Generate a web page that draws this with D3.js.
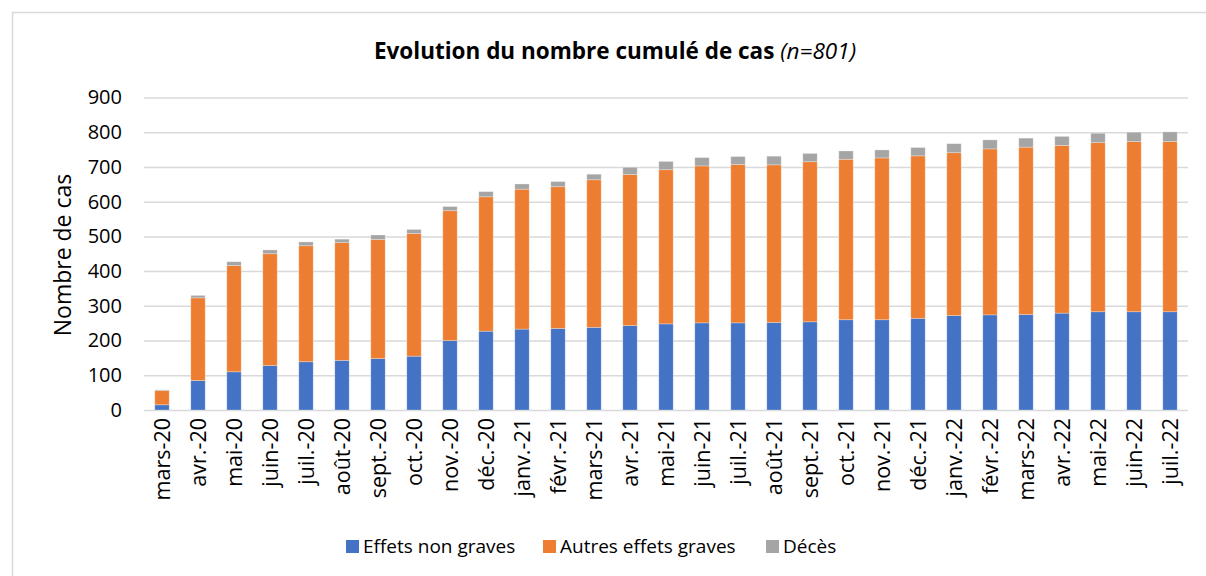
<!DOCTYPE html>
<html>
<head>
<meta charset="utf-8">
<script src="https://cdn.jsdelivr.net/npm/d3@7"></script>
<style>
  body { margin: 0; background: #fff; }
  svg text { font-family: "Open Sans", sans-serif; fill: #000; }
</style>
</head>
<body>
<div id="chart"></div>
<script>
const months = ['mars-20', 'avr.-20', 'mai-20', 'juin-20', 'juil.-20', 'août-20', 'sept.-20', 'oct.-20', 'nov.-20', 'déc.-20',
  'janv.-21', 'févr.-21', 'mars-21', 'avr.-21', 'mai-21', 'juin-21', 'juil.-21', 'août-21', 'sept.-21', 'oct.-21', 'nov.-21', 'déc.-21',
  'janv.-22', 'févr.-22', 'mars-22', 'avr.-22', 'mai-22', 'juin-22', 'juil.-22']
const nonGraves = [15, 85, 110, 128, 139, 143, 148, 155, 200, 227, 233, 235, 238, 243, 248, 251, 251, 252, 254, 260, 260, 264, 272, 274, 275, 279, 283, 283, 283]
const autresGraves = [41, 238, 306, 322, 334, 339, 343, 353, 374, 387, 403, 408, 425, 435, 444, 452, 456, 454, 461, 462, 466, 468, 469, 478, 482, 483, 487, 490, 490]
const deces = [2, 7, 11, 11, 11, 10, 13, 12, 12, 15, 15, 15, 16, 21, 24, 24, 23, 25, 24, 24, 23, 24, 26, 26, 26, 26, 27, 27, 28]
const seriesNames = ['Effets non graves', 'Autres effets graves', 'Décès']
const yTicks = [0, 100, 200, 300, 400, 500, 600, 700, 800, 900]

const draw = () => {
  const dimensions = {
    width: 1206,
    height: 576,
    margin: { top: 97.5, bottom: 166, right: 18, left: 144 }
  }
  dimensions.ctrWidth = dimensions.width - dimensions.margin.left - dimensions.margin.right
  dimensions.ctrHeight = dimensions.height - dimensions.margin.top - dimensions.margin.bottom

  const rows = months.map((m, i) => ({ month: m, a: nonGraves[i], b: autresGraves[i], c: deces[i] }))
  const keys = ['a', 'b', 'c']
  const colors = ['#4472C4', '#ED7D31', '#A5A5A5']
  const stacked = d3.stack().keys(keys)(rows)

  const svg = d3.select('#chart')
    .append('svg')
    .attr('width', dimensions.width)
    .attr('height', dimensions.height)

  // cadre du graphique
  svg.append('rect')
    .attr('x', 12.5).attr('y', 12.5)
    .attr('width', 1220).attr('height', 600)
    .attr('fill', 'none')
    .attr('stroke', '#d9d9d9')
    .attr('stroke-width', 1.5)

  svg.append('text')
    .attr('x', 615).attr('y', 59)
    .attr('text-anchor', 'middle')
    .style('font-size', '22.5px')
    .style('font-weight', 'bold')
    .html('Evolution du nombre cumulé de cas <tspan style="font-style:italic;font-weight:normal">(n=801)</tspan>')

  const ctr = svg.append('g')
    .attr('transform', `translate(${dimensions.margin.left}, ${dimensions.margin.top})`)

  const xScale = d3.scaleBand()
    .domain(months)
    .range([0, dimensions.ctrWidth])
    .paddingInner(0.6)
    .paddingOuter(0.3)

  const yScale = d3.scaleLinear()
    .domain([0, 900])
    .range([dimensions.ctrHeight, 0])

  const yAxis = d3.axisLeft(yScale)
    .tickValues(yTicks)
    .tickSize(-dimensions.ctrWidth)
    .tickPadding(22)

  const yAxisGroup = ctr.append('g').call(yAxis)
  yAxisGroup.select('.domain').remove()
  yAxisGroup.selectAll('line').attr('stroke', '#d9d9d9').attr('stroke-width', 1.5)
  yAxisGroup.selectAll('text').style('font-size', '20px')

  ctr.append('g')
    .selectAll('g')
    .data(stacked)
    .join('g')
    .attr('fill', (d, i) => colors[i])
    .selectAll('rect')
    .data(d => d)
    .join('rect')
    .attr('x', d => xScale(d.data.month))
    .attr('y', d => yScale(d[1]))
    .attr('width', xScale.bandwidth())
    .attr('height', d => yScale(d[0]) - yScale(d[1]))
    .attr('stroke', 'rgba(255,255,255,0.35)')
    .attr('stroke-width', 0.8)

  const xAxis = d3.axisBottom(xScale).tickSize(0).tickPadding(0)
  const xAxisGroup = ctr.append('g')
    .attr('transform', `translate(0, ${dimensions.ctrHeight})`)
    .call(xAxis)
  xAxisGroup.select('.domain').remove()
  xAxisGroup.selectAll('text')
    .attr('transform', 'rotate(-90)')
    .attr('text-anchor', 'end')
    .attr('x', -8)
    .attr('y', 0)
    .attr('dy', '0.35em')
    .style('font-size', '21.5px')

  const textX = 63
  const textY = 255
  svg.append('text')
    .attr('x', textX).attr('y', textY)
    .attr('text-anchor', 'middle')
    .attr('dy', '0.35em')
    .style('font-size', '23px')
    .attr('transform', `rotate(-90, ${textX}, ${textY})`)
    .text('Nombre de cas')

  // légende
  const legendX = [346, 543, 766]
  const legend = svg.append('g')
    .selectAll('g')
    .data(seriesNames)
    .join('g')
    .attr('transform', (d, i) => `translate(${legendX[i]}, 540)`)
  legend.append('rect')
    .attr('width', 13).attr('height', 13)
    .attr('fill', (d, i) => colors[i])
  legend.append('text')
    .attr('x', 17).attr('y', 6.5)
    .attr('dy', '0.35em')
    .style('font-size', '19px')
    .text(d => d)
}

draw()
</script>
</body>
</html>
